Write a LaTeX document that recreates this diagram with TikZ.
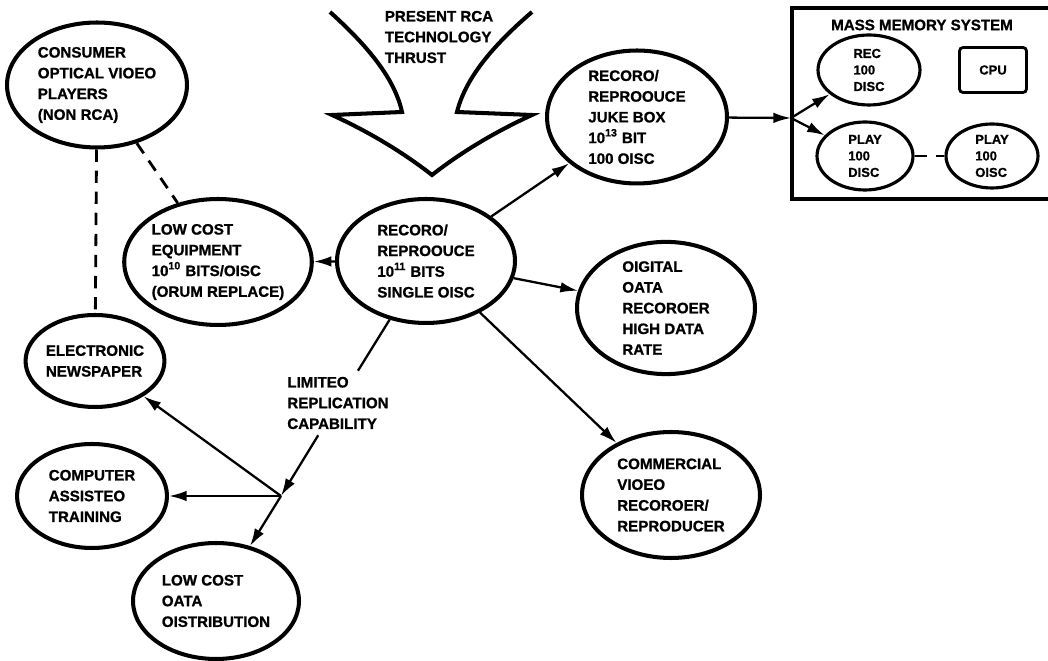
\documentclass[tikz,border=0pt]{standalone}
\usepackage{fontspec}
\setmainfont{Liberation Sans}[BoldFeatures={FakeBold=1}]
\usetikzlibrary{shapes.geometric,arrows.meta}

\begin{document}
\begin{tikzpicture}[x=0.02cm,y=-0.02cm,
  every node/.style={font=\bfseries\fontsize{8.6}{11.8}\selectfont, align=left},
  small/.style={font=\bfseries\fontsize{7.4}{9.4}\selectfont},
  bubble/.style={ellipse, draw, line width=2.3pt, inner sep=0pt},
  link/.style={line width=1.3pt, -{Latex[length=10pt,width=6pt]}},
  dashlink/.style={line width=1.6pt, dash pattern=on 7pt off 5pt}]
  \useasboundingbox (0,0) rectangle (1048,661);
  \clip (0,0) rectangle (1048,661);

  \draw[line width=2.3pt, line join=miter]
    (330,12) .. controls (370,48) and (395,80) .. (402,112)
    -- (332,115) .. controls (365,130) and (400,150) .. (432,175)
    .. controls (464,150) and (499,130) .. (532,115) -- (457,112)
    .. controls (465,80) and (490,48) .. (532,12);
  \node (thrust) at (439,37) {PRESENT RCA\\TECHNOLOGY\\THRUST};

  \node[bubble, minimum width=3.6cm, minimum height=2.5cm] (consumer) at (97,85)
    {CONSUMER\\OPTICAL VIOEO\\PLAYERS\\(NON RCA)};
  \node[bubble, minimum width=3.52cm, minimum height=2.52cm] (lowcost) at (218,262)
    {LOW COST\\EQUIPMENT\\10\textsuperscript{10} BITS/OISC\\(ORUM REPLACE)};
  \node[bubble, minimum width=3.56cm, minimum height=2.48cm] (central) at (426,261)
    {RECORO/\\REPROOUCE\\10\textsuperscript{11} BITS\\SINGLE OISC};
  \node[bubble, minimum width=3.6cm, minimum height=2.4cm] (jukebox) at (637,117)
    {RECORO/\\REPROOUCE\\JUKE BOX\\10\textsuperscript{13} BIT\\100 OISC};
  \node[bubble, minimum width=3.56cm, minimum height=2.4cm] (digital) at (666,308)
    {OIGITAL\\OATA\\RECOROER\\HIGH DATA\\RATE};
  \node[bubble, minimum width=3.56cm, minimum height=2.52cm] (commercial) at (671,495)
    {COMMERCIAL\\VIOEO\\RECOROER/\\REPRODUCER};
  \node[bubble, minimum width=2.72cm, minimum height=1.84cm] (news) at (95,361)
    {ELECTRONIC\\NEWSPAPER};
  \node[bubble, minimum width=3.0cm, minimum height=2.08cm] (training) at (92,496)
    {COMPUTER\\ASSISTEO\\TRAINING};
  \node[bubble, minimum width=3.32cm, minimum height=2.32cm] (distrib) at (216,601)
    {LOW COST\\OATA\\OISTRIBUTION};
  \node (limited) at (338,403) {LIMITEO\\REPLICATION\\CAPABILITY};

  \draw[line width=2.4pt] (792,8) rectangle (1060,199);
  \node (mass) at (922,25) {MASS MEMORY SYSTEM};
  \node[bubble, small, line width=1.8pt, minimum width=2.04cm, minimum height=1.4cm] (rec) at (869,70)
    {REC\\100\\DISC};
  \node[draw, small, line width=1.6pt, rounded corners=2pt, minimum width=1.34cm, minimum height=0.9cm] (cpu) at (993,70)
    {CPU};
  \node[bubble, small, line width=1.8pt, minimum width=1.92cm, minimum height=1.36cm] (play1) at (865,156)
    {PLAY\\100\\DISC};
  \node[bubble, small, line width=1.8pt, minimum width=1.84cm, minimum height=1.28cm] (play2) at (992,156)
    {PLAY\\100\\OISC};

  \coordinate (split) at (281,496);
  \coordinate (jb) at (791,118);

  \draw[link] (central) -- (lowcost);
  \draw[link] (central) -- (jukebox);
  \draw[link] (central) -- (digital);
  \draw[link] (central) -- (commercial);
  \draw[line width=1.3pt] (central) -- (limited);
  \draw[link] (limited) -- (split);
  \draw[link] (split) -- (distrib);
  \draw[link] (split) -- (news);
  \draw[link] (split) -- (training);
  \draw[link] (jukebox) -- (jb);
  \draw[link] (jb) -- (rec);
  \draw[link] (jb) -- (play1);
  \draw[dashlink] (play1) -- (play2);
  \draw[dashlink] (consumer) -- (news);
  \draw[dashlink] (consumer) -- (lowcost);
\end{tikzpicture}
\end{document}
